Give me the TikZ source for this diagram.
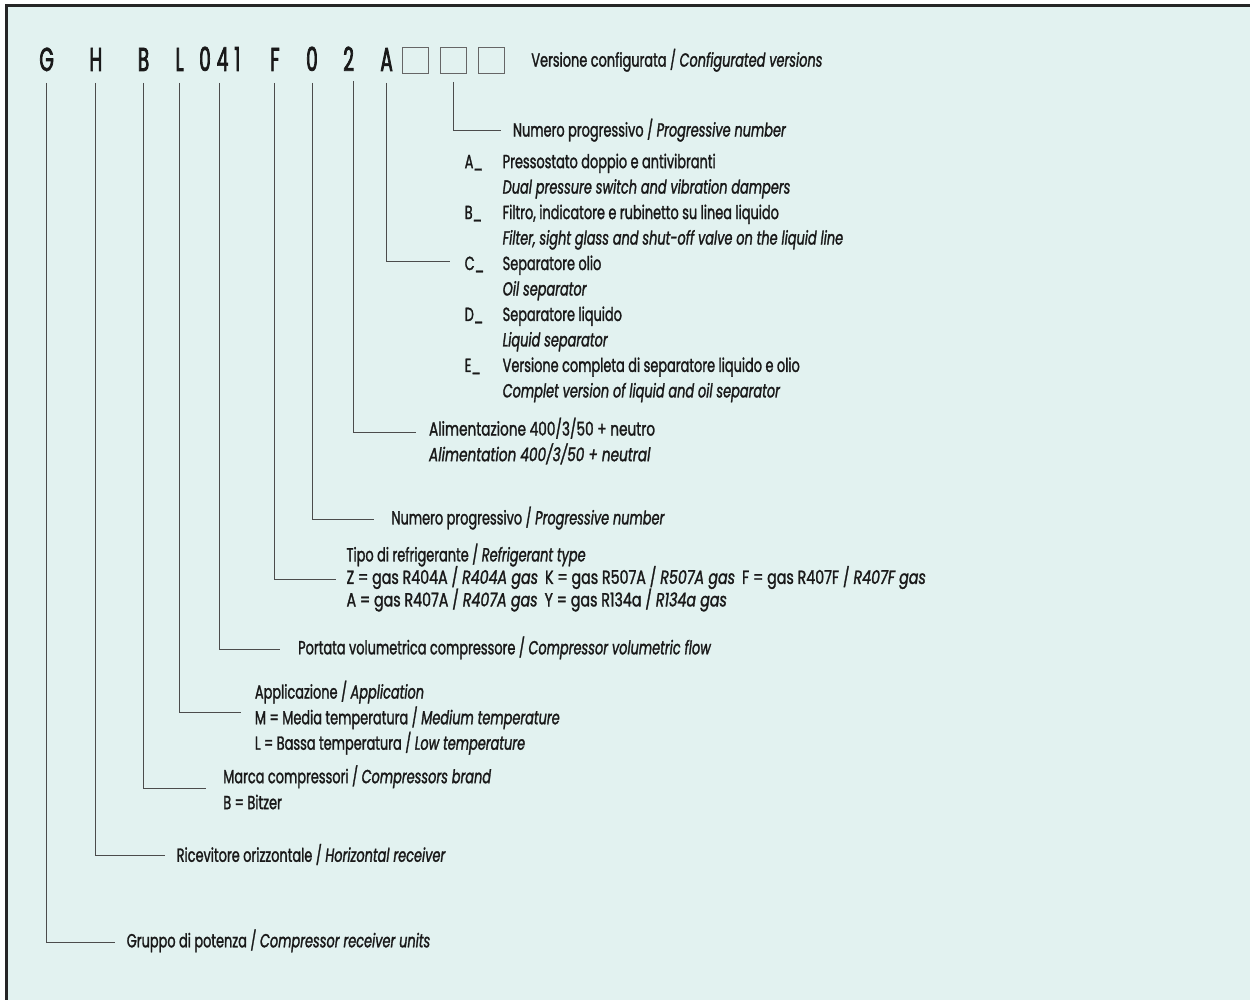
\documentclass[tikz,border=0pt]{standalone}
\usepackage{fontspec}
\newfontfamily\labf[FakeStretch=0.68,FakeBold=1.4]{Poppins}
\newfontfamily\labw[FakeStretch=0.75,FakeBold=1.4]{Poppins}
\newfontfamily\labm[FakeStretch=0.72,FakeBold=1.4]{Poppins}
\newfontfamily\codef[FakeStretch=0.56,FakeBold=2.2]{Poppins}
\definecolor{bg}{RGB}{226,242,240}
\begin{document}
\begin{tikzpicture}[x=1pt,y=-1pt,
  conn/.style={draw=black!70, line width=0.9pt},
  lab/.style={anchor=base west, inner sep=0pt, font=\labf\fontsize{19}{23}\selectfont, text=black!90},
  labwide/.style={lab, font=\labw\fontsize{19}{23}\selectfont},
  labmid/.style={lab, font=\labm\fontsize{19}{23}\selectfont},
  code/.style={anchor=base, inner sep=0pt, font=\codef\fontsize{33}{36}\selectfont, text=black!90},
  cbox/.style={draw=black!60, line width=0.9pt, minimum width=26pt, minimum height=26pt, inner sep=0pt}]
\fill[white] (0,0) rectangle (1251,1001);
\fill[bg] (6.75,5.3) rectangle (1251,1001);
\draw[line width=2.6pt, black!85] (6.75,1001) -- (6.75,5.3) -- (1251,5.3);
% code
\node[code] (cG) at (46.7,71) {G};
\node[code] (cH) at (96,71) {H};
\node[code] (cB) at (143.7,71) {B};
\node[code] (cL) at (179.8,71) {L};
\node[code] (cN) at (220,71) {0\hspace{6pt}4\hspace{6pt}1};
\node[code] (cF) at (275.2,71) {F};
\node[code] (cO) at (312.3,71) {0};
\node[code] (cT) at (349,71) {2};
\node[code] (cA) at (387,71) {A};
\node[cbox] (b1) at (415.5,60.5) {};
\node[cbox] (b2) at (453.5,60.5) {};
\node[cbox] (b3) at (491.5,60.5) {};
% labels
\node[lab] (lV) at (531.7,66.7) {Versione configurata / \textit{Configurated versions}};
\node[lab] (lP1) at (513.3,136.7) {Numero progressivo / \textit{Progressive number}};
\node[lab] (oA) at (465,168.3) {A\_};
\node[lab] (tA1) at (503,168.3) {Pressostato doppio e antivibranti};
\node[lab] (tA2) at (503,193.8) {\textit{Dual pressure switch and vibration dampers}};
\node[lab] (oB) at (465,219.3) {B\_};
\node[lab] (tB1) at (503,219.3) {Filtro, indicatore e rubinetto su linea liquido};
\node[lab] (tB2) at (503,244.8) {\textit{Filter, sight glass and shut-off valve on the liquid line}};
\node[lab] (oC) at (465,270.3) {C\_};
\node[lab] (tC1) at (503,270.3) {Separatore olio};
\node[lab] (tC2) at (503,295.8) {\textit{Oil separator}};
\node[lab] (oD) at (465,321.3) {D\_};
\node[lab] (tD1) at (503,321.3) {Separatore liquido};
\node[lab] (tD2) at (503,346.8) {\textit{Liquid separator}};
\node[lab] (oE) at (465,372.3) {E\_};
\node[lab] (tE1) at (503,372.3) {Versione completa di separatore liquido e olio};
\node[lab] (tE2) at (503,397.8) {\textit{Complet version of liquid and oil separator}};
\node[labmid] (lAl1) at (429.3,436) {Alimentazione 400/3/50 + neutro};
\node[labmid] (lAl2) at (429.3,461.7) {\textit{Alimentation 400/3/50 + neutral}};
\node[lab] (lP2) at (391.7,525) {Numero progressivo / \textit{Progressive number}};
\node[lab] (lR1) at (346.7,562) {Tipo di refrigerante / \textit{Refrigerant type}};
\node[labwide] (lR2) at (346.7,584.5) {Z = gas R404A / \textit{R404A gas}\hspace{7pt}K = gas R507A / \textit{R507A gas}\hspace{7pt}F = gas R407F / \textit{R407F gas}};
\node[labwide] (lR3) at (346.7,607) {A = gas R407A / \textit{R407A gas}\hspace{7pt}Y = gas R134a / \textit{R134a gas}};
\node[lab] (lPo) at (298.3,655) {Portata volumetrica compressore / \textit{Compressor volumetric flow}};
\node[lab] (lAp1) at (255,699.3) {Applicazione / \textit{Application}};
\node[lab] (lAp2) at (255,725) {M = Media temperatura / \textit{Medium temperature}};
\node[lab] (lAp3) at (255,750.5) {L = Bassa temperatura / \textit{Low temperature}};
\node[lab] (lM1) at (223.3,784) {Marca compressori / \textit{Compressors brand}};
\node[lab] (lM2) at (223.3,810) {B = Bitzer};
\node[lab] (lRi) at (176.7,862.7) {Ricevitore orizzontale / \textit{Horizontal receiver}};
\node[lab] (lGr) at (126.7,948.3) {Gruppo di potenza / \textit{Compressor receiver units}};
% connector ends
\coordinate (eB2) at (501.7,131);
\coordinate (eA) at (450,261.7);
\coordinate (eT) at (416.7,432.7);
\coordinate (eO) at (374,520);
\coordinate (eF) at (336.7,580);
\coordinate (eN) at (280,650);
\coordinate (eL) at (241.7,713.3);
\coordinate (eB) at (206,789.3);
\coordinate (eH) at (165,856);
\coordinate (eG) at (115,943.3);
% connectors
\draw[conn] ([yshift=-8pt]b2.south) |- (eB2);
\draw[conn] ([yshift=-12pt]cA.base) |- (eA);
\draw[conn] ([xshift=5.3pt,yshift=-10pt]cT.base) |- (eT);
\draw[conn] ([yshift=-12pt]cO.base) |- (eO);
\draw[conn] ([yshift=-12pt]cF.base) |- (eF);
\draw[conn] ([xshift=-0.7pt,yshift=-12pt]cN.base) |- (eN);
\draw[conn] ([xshift=-0.5pt,yshift=-12pt]cL.base) |- (eL);
\draw[conn] ([yshift=-12pt]cB.base) |- (eB);
\draw[conn] ([yshift=-12pt]cH.base) |- (eH);
\draw[conn] ([yshift=-12pt]cG.base) |- (eG);
\end{tikzpicture}
\end{document}
